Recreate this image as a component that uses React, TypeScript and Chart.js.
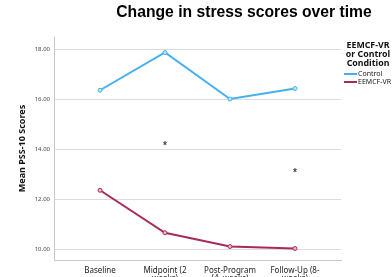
import React, { useEffect, useRef } from "react";
import { Chart, registerables } from "chart.js";

Chart.register(...registerables);

const categories: string[][] = [
  ["Baseline"],
  ["Midpoint (2", "weeks)"],
  ["Post-Program", "(4  weeks)"],
  ["Follow-Up (8-", "weeks)"],
];
const controlScores = [16.35, 17.86, 16.0, 16.42];
const eemcfScores = [12.35, 10.65, 10.1, 10.02];
const starPositions = [1, 3];
const starValues = [14.2, 13.12];
const legendTitle = ["EEMCF-VR", "or Control", "Condition"];
const seriesNames = ["Control", "EEMCF-VR"];
const seriesColors = ["#45aff0", "#a82a5c"];
const chartTitle = "Change in stress scores over time";
const yAxisTitle = "Mean PSS-10 Scores";

const decorPlugin = {
  id: "decor",
  afterDraw(chart: any) {
    const ctx = chart.ctx;
    const xs = chart.scales.x;
    const ys = chart.scales.y;
    ctx.save();
    // title
    ctx.fillStyle = "#000";
    ctx.font = "bold 15.7px 'Liberation Sans', Arial, sans-serif";
    ctx.textAlign = "center";
    ctx.textBaseline = "middle";
    ctx.fillText(chartTitle, 244, 13);
    // stars
    ctx.fillStyle = "#444";
    ctx.font = "bold 10px 'Liberation Sans', Arial, sans-serif";
    starPositions.forEach((p, i) => {
      ctx.fillText("*", xs.getPixelForValue(p), ys.getPixelForValue(starValues[i]) + 2);
    });
    // legend
    ctx.fillStyle = "#111";
    ctx.font = "bold 8.8px 'Noto Sans', sans-serif";
    legendTitle.forEach((t, i) => ctx.fillText(t, 368, 45 + i * 9));
    ctx.font = "7px 'Noto Sans', sans-serif";
    ctx.textAlign = "left";
    seriesNames.forEach((n, i) => {
      const y = 74 + i * 8;
      ctx.strokeStyle = seriesColors[i];
      ctx.lineWidth = 2;
      ctx.beginPath();
      ctx.moveTo(344, y);
      ctx.lineTo(357, y);
      ctx.stroke();
      ctx.fillStyle = "#222";
      ctx.fillText(n, 358, y);
    });
    ctx.restore();
  },
};

export default function App() {
  const ref = useRef<HTMLCanvasElement | null>(null);
  useEffect(() => {
    if (!ref.current) return;
    const mk = (vals: number[]) => vals.map((v, i) => ({ x: i, y: v }));
    const chart = new Chart(ref.current, {
      type: "line",
      data: {
        datasets: [
          {
            label: seriesNames[0],
            data: mk(controlScores),
            borderColor: seriesColors[0],
            backgroundColor: "#bfe4fb",
            pointBorderColor: seriesColors[0],
            borderWidth: 2,
            pointRadius: 2,
            pointBorderWidth: 1,
          },
          {
            label: seriesNames[1],
            data: mk(eemcfScores),
            borderColor: seriesColors[1],
            backgroundColor: "#e7b9cc",
            pointBorderColor: seriesColors[1],
            borderWidth: 2,
            pointRadius: 2,
            pointBorderWidth: 1,
          },
        ],
      },
      options: {
        responsive: false,
        animation: false,
        layout: { padding: { top: 37, right: 51, left: 0, bottom: 0 } },
        plugins: { legend: { display: false }, tooltip: { enabled: false }, title: { display: false } },
        scales: {
          x: {
            type: "linear",
            min: -0.708,
            max: 3.708,
            grid: { display: false },
            border: { display: true, color: "#c8c8c8", width: 1 },
            afterFit: (s: any) => { s.height = 17; },
            ticks: {
              stepSize: 1,
              includeBounds: false,
              autoSkip: false,
              maxRotation: 0,
              padding: -2,
              color: "#222",
              font: { size: 8, family: "'Noto Sans', sans-serif", lineHeight: 1.1 },
              callback: (v: any) => categories[v] ?? "",
            },
          },
          y: {
            min: 9.56,
            max: 18.48,
            grid: { color: "#dcdcdc", lineWidth: 1, drawTicks: false },
            border: { display: true, color: "#c8c8c8", width: 1 },
            afterFit: (s: any) => { s.width = 54; },
            title: {
              display: true,
              text: yAxisTitle,
              color: "#111",
              font: { size: 9, weight: "bold", family: "'Noto Sans', sans-serif" },
              padding: { top: 17, bottom: 0 },
            },
            ticks: {
              stepSize: 2,
              includeBounds: false,
              padding: 4,
              color: "#444",
              font: { size: 6, family: "'Noto Sans', sans-serif" },
              callback: (v: any) => Number(v).toFixed(2),
            },
          },
        },
      },
      plugins: [decorPlugin],
    } as any);
    return () => chart.destroy();
  }, []);
  return (
    <div style={{ position: "fixed", left: 0, top: 0, width: 392, height: 277, background: "#fff" }}>
      <canvas ref={ref} width={392} height={277} style={{ display: "block" }} />
    </div>
  );
}
